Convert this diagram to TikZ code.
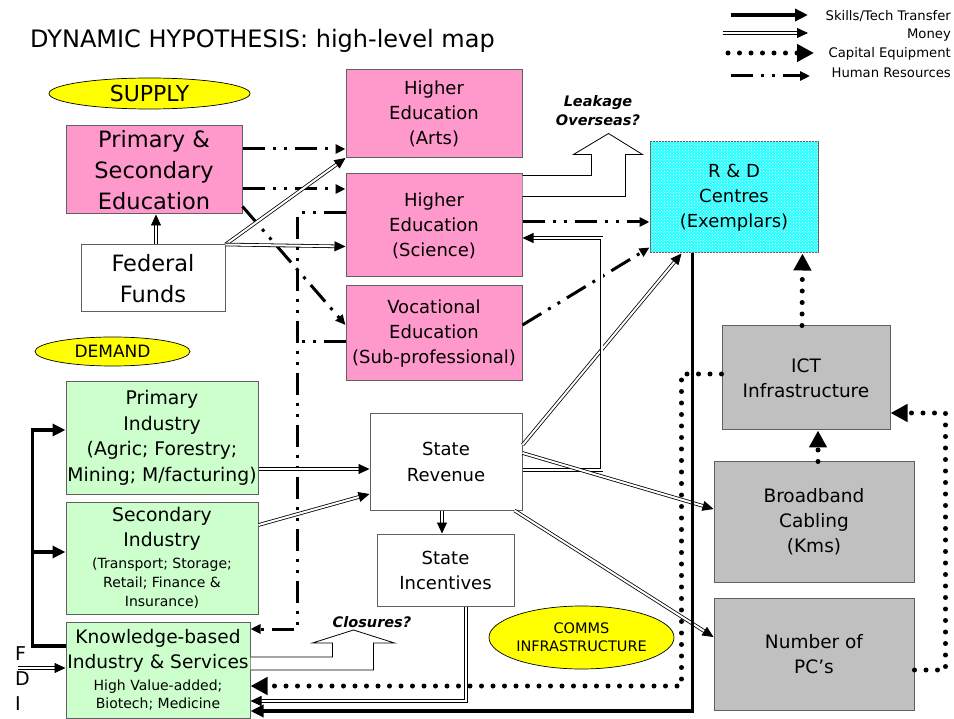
\documentclass[tikz,border=0pt]{standalone}
\usepackage{fontspec}
\setmainfont{DejaVu Sans}
\usetikzlibrary{arrows.meta,shapes.geometric,patterns}
\definecolor{pinkfill}{HTML}{FF99CC}
\definecolor{greenfill}{HTML}{CCFFCC}
\definecolor{grayfill}{HTML}{C0C0C0}
\definecolor{ovalfill}{HTML}{FFFF00}
\definecolor{rdfill}{HTML}{00FFFF}
\definecolor{boxline}{HTML}{606060}
\newcommand\myfs[2]{\fontsize{#1}{#2}\selectfont}
\begin{document}
\begin{tikzpicture}[x=1pt,y=-1pt,
  basebox/.style={rectangle, draw=boxline, line width=1pt, inner sep=0pt, align=center},
  pinkbox/.style={basebox, fill=pinkfill},
  greenbox/.style={basebox, fill=greenfill},
  graybox/.style={basebox, fill=grayfill},
  whitebox/.style={basebox, fill=white},
  oval/.style={ellipse, draw=black, line width=0.7pt, fill=ovalfill, inner sep=0pt, align=center},
  money/.style={draw=black, double=white, double distance=2pt, line width=0.8pt, -{Triangle[length=11pt,width=10pt]}},
  skills/.style={line width=3.5pt, -{Triangle[length=13pt,width=12pt]}},
  capital/.style={line width=5pt, line cap=round, dash pattern=on 0pt off 11.5pt, -{Triangle[length=17pt,width=17pt]}},
  hrline/.style={line width=3pt, dash pattern=on 22pt off 8pt on 3pt off 8pt on 3pt off 8pt, -{Triangle[length=10pt,width=9pt]}},
  hrplain/.style={line width=3pt, dash pattern=on 22pt off 8pt on 3pt off 8pt on 3pt off 8pt},
  block/.style={draw=black, line width=0.8pt, fill=white, line join=miter},
  qlabel/.style={align=center, inner sep=0pt, font=\bfseries\itshape\myfs{14.5}{19}},
  legtext/.style={anchor=east, inner sep=0pt, font=\myfs{13.2}{16}}
]
\fill[white] (0,0) rectangle (954,719);
\useasboundingbox (0,0) rectangle (954,719);

% title
\node[anchor=base west, inner sep=0pt, font=\myfs{24}{28}] (title) at (30,48) {DYNAMIC HYPOTHESIS: high-level map};

% legend
\coordinate (l1a) at (731,15); \coordinate (l1b) at (808,15);
\coordinate (l2a) at (723,33); \coordinate (l2b) at (808,33);
\coordinate (l3a) at (728,53); \coordinate (l3b) at (814,53);
\coordinate (l4a) at (731,76); \coordinate (l4b) at (810,76);
\draw[skills] (l1a) -- (l1b);
\draw[money] (l2a) -- (l2b);
\draw[capital] (l3a) -- (l3b);
\draw[hrline] (l4a) -- (l4b);
\node[legtext] (lt1) at (951,16) {Skills/Tech Transfer};
\node[legtext] (lt2) at (951,35) {Money};
\node[legtext] (lt3) at (951,54) {Capital Equipment};
\node[legtext] (lt4) at (951,73) {Human Resources};

% ovals
\node[oval, minimum width=201pt, minimum height=31pt, font=\myfs{22}{26}] (sup) at (149.5,93.5) {SUPPLY};
\node[oval, minimum width=155pt, minimum height=29pt, font=\myfs{17}{20}] (dem) at (112.5,351.5) {DEMAND};
\node[oval, minimum width=185pt, minimum height=63pt, font=\myfs{14.5}{18}] (comms) at (581.5,637.5) {COMMS\\INFRASTRUCTURE};

% supply boxes
\node[pinkbox, minimum width=176pt, minimum height=88pt, font=\myfs{22.5}{31}] (ps) at (154,170) {Primary \&\\Secondary\\Education};
\node[whitebox, minimum width=144pt, minimum height=67pt, font=\myfs{22.5}{31}] (ff) at (153,278.5) {Federal\\Funds};
\node[pinkbox, minimum width=176pt, minimum height=88pt, font=\myfs{18}{25}] (ha) at (434,113.5) {Higher\\Education\\(Arts)};
\node[pinkbox, minimum width=176pt, minimum height=103pt, font=\myfs{18}{25}] (hs) at (434,225.5) {Higher\\Education\\(Science)};
\node[pinkbox, minimum width=176pt, minimum height=95pt, font=\myfs{18}{25}] (ve) at (434,333.5) {Vocational\\Education\\(Sub-professional)};
\node[basebox, fill=rdfill!85!white, postaction={pattern=crosshatch dots, pattern color=white}, minimum width=168pt, minimum height=111pt, font=\myfs{18}{25}] (rd) at (734,197.5) {R \& D\\Centres\\(Exemplars)};

% demand boxes
\node[greenbox, minimum width=192pt, minimum height=112pt, font=\myfs{18.8}{25.5}] (pi) at (162,438) {Primary\\Industry\\(Agric; Forestry;\\Mining; M/facturing)};
\node[greenbox, minimum width=192pt, minimum height=112pt, font=\myfs{18.8}{25}] (si) at (162,558) {Secondary\\Industry\\[-3pt]{\myfs{14}{19}(Transport; Storage;}\\[-6pt]{\myfs{14}{19}Retail; Finance \&}\\[-6pt]{\myfs{14}{19}Insurance)}};
\node[greenbox, minimum width=184pt, minimum height=96pt, font=\myfs{18.6}{25}] (kb) at (158,670) {Knowledge-based\\Industry \& Services\\[-3pt]{\myfs{14}{19}High Value-added;}\\[-7pt]{\myfs{14}{19}Biotech; Medicine}};
\node[whitebox, minimum width=152pt, minimum height=96pt, font=\myfs{18}{26}] (sr) at (446,462) {State\\Revenue};
\node[whitebox, minimum width=137pt, minimum height=72pt, font=\myfs{18}{25}] (sinc) at (445.5,570) {State\\Incentives};

% comms boxes
\node[graybox, minimum width=168pt, minimum height=104pt, font=\myfs{18.5}{25}] (ict) at (806,378) {ICT\\Infrastructure};
\node[graybox, minimum width=200pt, minimum height=120pt, font=\myfs{18.5}{25}] (bb) at (814,522) {Broadband\\Cabling\\(Kms)};
\node[graybox, minimum width=200pt, minimum height=112pt, font=\myfs{18.5}{25}] (pc) at (814,654) {Number of\\PC’s};

% FDI
\node[anchor=west, align=left, inner sep=0pt, font=\myfs{19}{25}] (fdilabel) at (15,679) {F\\D\\I};
\coordinate (fdi) at (18,668);

% labels
\node[qlabel] (leak) at (598,111) {Leakage\\Overseas?};
\node[qlabel] (clos) at (372,622) {Closures?};

% block arrows
\draw[block] ([yshift=-2pt]hs.north east) -- ++(69,0) -- ++(0,-21) -- ++(-18,0) -- ++(35,-21) -- ++(34,21) -- ++(-17,0) -- ++(0,42) -- ++(-103,0);
\draw[block] ([yshift=13pt]kb.east) -- ++(82,0) -- ++(0,-14) -- ++(-20,0) -- ++(41,-13) -- ++(41,13) -- ++(-21,0) -- ++(0,27) -- (kb.east);

% human resources
\draw[hrline] ([yshift=21pt]ps.east) -- ([yshift=-35.5pt]ha.west);
\draw[hrline] ([yshift=-19pt]ps.east) -- ([yshift=36.5pt]hs.west);
\draw[hrline] ([yshift=8pt]ps.south east) -- ([yshift=8.5pt]ve.west);
\draw[hrline] ([yshift=12.5pt]hs.west) -- ++(-48,0) |- ([yshift=41pt]kb.east);
\draw[hrplain] ([yshift=-8.5pt]ve.west) -- ++(-48,0);
\draw[hrline] ([yshift=3.5pt]hs.east) -- ([yshift=-24.5pt]rd.west);
\draw[hrline] ([yshift=8.5pt]ve.east) -- ([yshift=6pt]rd.south west);

% money
\draw[money] ([xshift=3pt]ff.north) -- ([xshift=2pt]ps.south);
\draw[money] (ff.north east) -- (ha.south west);
\draw[money] (ff.north east) -- ([yshift=-21pt]hs.west);
\draw[money] ([yshift=-31pt]pi.east) -- ([yshift=-7pt]sr.west);
\draw[money] ([yshift=33pt]si.east) -- ([yshift=-32pt]sr.west);
\draw[money] ([yshift=17pt]sr.east) -- ([xshift=32pt]rd.south west);
\draw[money] ([yshift=-8pt]sr.east) -- ++(79,0) |- ([yshift=-12.5pt]hs.east);
\draw[money] ([yshift=9pt]sr.east) -- ([yshift=13pt]bb.west);
\draw[money] ([xshift=-8pt]sr.south east) -- ([yshift=17pt]pc.west);
\draw[money] ([xshift=-4pt]sr.south) -- ([xshift=-3.5pt]sinc.north);
\draw[money] ([xshift=20.5pt]sinc.south) |- ([yshift=-31pt]kb.east);
\draw[money] (fdi) -- ([yshift=2pt]kb.west);

% skills / tech transfer
\draw[skills] ([xshift=43pt]rd.south west) |- ([yshift=-41pt]kb.east);
\coordinate (sia) at ([yshift=6pt]si.west);
\draw[skills] ([yshift=24pt]kb.west) -- ++(-33,0) coordinate (sk) |- ([yshift=8pt]pi.west);
\draw[skills] (sk |- sia) -- (sia);

% capital equipment
\draw[capital] ([xshift=-4pt]ict.north) -- ([xshift=-16pt]rd.south east);
\draw[capital] ([xshift=4pt]bb.north) -- ([xshift=12pt]ict.south);
\draw[capital] ([yshift=-16pt]pc.east) -- ++(31,0) |- ([yshift=-35pt]ict.east);
\draw[capital] ([yshift=4pt]ict.west) -- ++(-40,0) |- ([yshift=-16pt]kb.east);
\end{tikzpicture}
\end{document}
